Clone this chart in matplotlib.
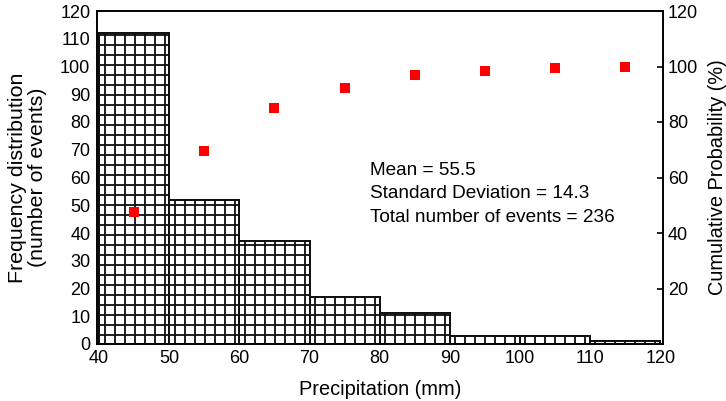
import matplotlib
matplotlib.use("Agg")
import matplotlib.pyplot as plt
import numpy as np

bin_edges = [40, 50, 60, 70, 80, 90, 100, 110, 120]
frequency = [112, 52, 37, 17, 11, 3, 3, 1]
bin_centers = [45, 55, 65, 75, 85, 95, 105, 115]
cumulative = [47.5, 69.5, 85.2, 92.4, 97.0, 98.3, 99.6, 100.0]
left_ticks = [0, 10, 20, 30, 40, 50, 60, 70, 80, 90, 100, 110, 120]
right_ticks = [20, 40, 60, 80, 100, 120]
x_ticks = [40, 50, 60, 70, 80, 90, 100, 110, 120]
stats_lines = ["Mean = 55.5", "Standard Deviation = 14.3", "Total number of events = 236"]

plt.rcParams['font.family'] = ['Liberation Sans', 'DejaVu Sans']
plt.rcParams['hatch.linewidth'] = 1.1
FS_TICK = 10.8
FS_LABEL = 12.0

dpi = 120
fig = plt.figure(figsize=(726 / dpi, 401 / dpi), dpi=dpi)
ax = fig.add_axes([97 / 726, (401 - 344) / 401, (663 - 97) / 726, (344 - 11) / 401])

widths = np.diff(bin_edges)
ax.bar(bin_edges[:-1], frequency, width=widths, align='edge', facecolor='white',
       edgecolor='#111111', hatch='++', linewidth=1.2, zorder=2)

ax.set_xlim(39.7, 120.4)
ax.set_ylim(0, 120)
ax.set_xticks(x_ticks)
ax.set_yticks(left_ticks)
ax.tick_params(axis='both', direction='in', labelsize=FS_TICK, width=1.0)
ax.tick_params(axis='y', length=3.5, pad=4.0)
ax.tick_params(axis='x', length=0, pad=3.6)
for s in ax.spines.values():
    s.set_linewidth(1.0)
ax.set_xlabel("Precipitation (mm)", fontsize=FS_LABEL, labelpad=8)
ax.set_ylabel("Frequency distribution\n(number of events)", fontsize=12.8, labelpad=8,
              linespacing=1.05)

ax2 = ax.twinx()
ax2.set_ylim(0, 120)
ax2.set_yticks(right_ticks)
ax2.tick_params(axis='y', direction='in', length=3.5, pad=3, labelsize=FS_TICK, width=1.0)
ax2.plot(bin_centers, cumulative, linestyle='none', marker='s', markersize=6,
         color='#ff0000', markeredgewidth=0)
ax2.set_ylabel("Cumulative Probability (%)", fontsize=FS_LABEL, labelpad=6)
for s in ax2.spines.values():
    s.set_linewidth(1.0)

for i, line in enumerate(stats_lines):
    ax.text(370 / 726, (401 - 175 - i * 23.3) / 401, line, transform=fig.transFigure,
            fontsize=11.4, ha='left', va='baseline')

fig.savefig("out.png", dpi=dpi)
